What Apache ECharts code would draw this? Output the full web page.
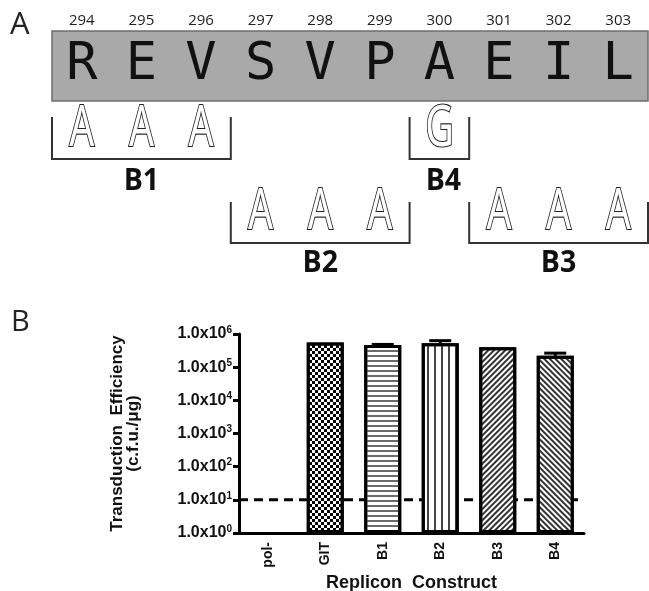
<!DOCTYPE html>
<html>
<head>
<meta charset="utf-8">
<script src="https://cdn.jsdelivr.net/npm/echarts@6/dist/echarts.min.js"></script>
<style>
html,body{margin:0;padding:0;background:#fff;}
#chart{width:649px;height:591px;}
</style>
</head>
<body>
<div id="chart"></div>
<script>
// ---------- Panel A data ----------
const residueNumbers = [294, 295, 296, 297, 298, 299, 300, 301, 302, 303];
const sequence = ['R', 'E', 'V', 'S', 'V', 'P', 'A', 'E', 'I', 'L'];
const mutantNames = ['B1', 'B2', 'B3', 'B4'];
const mutantFirstResidue = [294, 297, 301, 300];
const mutantSubstitutions = [['A', 'A', 'A'], ['A', 'A', 'A'], ['A', 'A', 'A'], ['G']];

// ---------- Panel B data ----------
const categories = ['pol-', 'GIT', 'B1', 'B2', 'B3', 'B4'];
const efficiency = [null, 5.5e5, 4.7e5, 5.3e5, 4.0e5, 2.2e5];
const errorHigh = [null, null, 4.85e5, 6.3e5, null, 2.65e5];
const threshold = 10;
const yMin = 1, yMax = 1e6;

// ---------- layout / style ----------
const FONT = "'Liberation Sans', Arial, sans-serif";
const SANS = "'Open Sans', 'Noto Sans', sans-serif";
const box = { left: 52, right: 648, top: 31, bottom: 101 };
const step = (box.right - box.left) / residueNumbers.length;
const cx = i => box.left + (i + 0.5) * step;
const edge = i => box.left + i * step;
const rowLayout = {
  B1: { letterY: 130, top: 117, bottom: 159, labelY: 181.5, dx: 0 },
  B4: { letterY: 130, top: 117, bottom: 159, labelY: 181.5, dx: 4 },
  B2: { letterY: 213, top: 202, bottom: 243, labelY: 263.5, dx: 0 },
  B3: { letterY: 213, top: 202, bottom: 243, labelY: 263.5, dx: 0 }
};
const decals = [
  null,
  { symbol: 'rect', symbolSize: 1, dashArrayX: [[3, 3], [0, 3, 3, 0]], dashArrayY: [3, 0], color: '#000' },
  { symbol: 'rect', symbolSize: 1, dashArrayX: [1, 0], dashArrayY: [1.6, 2.3], color: '#6a6a6a' },
  { symbol: 'rect', symbolSize: 1, dashArrayX: [1.8, 4.6], dashArrayY: [1, 0], color: '#444' },
  { symbol: 'rect', symbolSize: 1, dashArrayX: [1, 0], dashArrayY: [1.4, 1.9], rotation: -Math.PI / 4, color: '#333' },
  { symbol: 'rect', symbolSize: 1, dashArrayX: [1, 0], dashArrayY: [1.4, 2.0], rotation: Math.PI / 4, color: '#333' }
];

// ---------- Panel A graphics ----------
const graphics = [];
graphics.push({ type: 'text', x: 10, y: 25, style: { text: 'A', fontSize: 31, fontFamily: SANS, fill: '#222', align: 'left', verticalAlign: 'middle' } });
graphics.push({ type: 'text', x: 11, y: 323, style: { text: 'B', fontSize: 29, fontFamily: SANS, fill: '#222', align: 'left', verticalAlign: 'middle' } });
graphics.push({ type: 'rect', shape: { x: box.left, y: box.top, width: box.right - box.left, height: box.bottom - box.top }, style: { fill: '#a9a9a9', stroke: '#6e6e6e', lineWidth: 1.5 } });
residueNumbers.forEach((n, i) => {
  graphics.push({ type: 'text', x: cx(i), y: 20.5, style: { text: String(n), fontSize: 15, fontFamily: SANS, fill: '#222', align: 'center', verticalAlign: 'middle' } });
});
sequence.forEach((s, i) => {
  graphics.push({ type: 'text', x: cx(i), y: 65, style: { text: s, fontSize: 52, fontFamily: "'DejaVu Sans Mono', monospace", fill: '#111', align: 'center', verticalAlign: 'middle' } });
});
mutantNames.forEach((name, g) => {
  const lay = rowLayout[name];
  const start = mutantFirstResidue[g] - residueNumbers[0];
  const subs = mutantSubstitutions[g];
  subs.forEach((aa, k) => {
    graphics.push({ type: 'text', x: cx(start + k), y: lay.letterY, scaleX: 0.7, style: { text: aa, fontSize: 56, fontFamily: "'Noto Sans', sans-serif", fill: '#fff', stroke: '#222', lineWidth: 2.2, align: 'center', verticalAlign: 'middle' } });
  });
  const x1 = edge(start), x2 = edge(start + subs.length);
  graphics.push({ type: 'polyline', shape: { points: [[x1, lay.top], [x1, lay.bottom], [x2, lay.bottom], [x2, lay.top]] }, style: { stroke: '#333', lineWidth: 2, fill: null } });
  graphics.push({ type: 'text', x: (x1 + x2) / 2 + lay.dx, y: lay.labelY, scaleX: 0.92, style: { text: name, fontSize: 31, fontWeight: 'bold', fontFamily: SANS, fill: '#111', align: 'center', verticalAlign: 'middle' } });
});

// ---------- Chart ----------
const chart = echarts.init(document.getElementById('chart'), null, { renderer: 'canvas' });
const errData = [];
errorHigh.forEach((h, i) => { if (h != null) errData.push([i, efficiency[i], h]); });

chart.setOption({
  animation: false,
  backgroundColor: '#fff',
  graphic: graphics,
  grid: { left: 239, right: 65, top: 334, bottom: 58, containLabel: false, outerBoundsMode: 'none' },
  xAxis: [{
    type: 'category',
    data: categories,
    boundaryGap: true,
    axisLine: { lineStyle: { color: '#000', width: 3 } },
    axisTick: { alignWithLabel: true, length: 6, lineStyle: { color: '#000', width: 3 } },
    axisLabel: { rotate: 90, margin: 9, fontSize: 14, fontWeight: 'bold', fontFamily: FONT, color: '#111' },
    name: 'Replicon  Construct',
    nameLocation: 'middle',
    nameGap: 41,
    nameTextStyle: { fontSize: 18, fontWeight: 'bold', fontFamily: FONT, color: '#111' }
  }, {
    type: 'value', min: 0, max: 1, show: false, gridIndex: 0
  }],
  yAxis: {
    type: 'log',
    logBase: 10,
    min: yMin,
    max: yMax,
    interval: 1,
    splitLine: { show: false },
    axisLine: { show: true, lineStyle: { color: '#000', width: 3 } },
    axisTick: { show: true, length: 6, lineStyle: { color: '#000', width: 3 } },
    axisLabel: {
      margin: 7,
      formatter: v => '{b|1.0x10}{s|' + Math.round(Math.log10(v)) + '}',
      rich: {
        b: { fontSize: 16, fontWeight: 'bold', fontFamily: FONT, color: '#111', lineHeight: 18 },
        s: { fontSize: 10, fontWeight: 'bold', fontFamily: FONT, color: '#111', lineHeight: 10, verticalAlign: 'top' }
      }
    },
    name: 'Transduction  Efficiency\n(c.f.u./μg)',
    nameLocation: 'middle',
    nameRotate: 90,
    nameGap: 98,
    nameTextStyle: { fontSize: 17, fontWeight: 'bold', fontFamily: FONT, color: '#111', lineHeight: 16 }
  },
  series: [{
    type: 'line',
    xAxisIndex: 1,
    data: [[0, threshold], [1, threshold]],
    symbol: 'none',
    z: 1,
    silent: true,
    lineStyle: { color: '#000', width: 3, type: [9, 6] }
  }, {
    type: 'bar',
    xAxisIndex: 0,
    barWidth: 37,
    z: 3,
    data: efficiency.map((v, i) => ({
      value: v,
      itemStyle: { color: '#fff', borderColor: '#000', borderWidth: 3, decal: decals[i] }
    }))
  }, {
    type: 'custom',
    xAxisIndex: 0,
    z: 4,
    data: errData,
    renderItem: (params, api) => {
      const lo = api.coord([api.value(0), api.value(1)]);
      const hi = api.coord([api.value(0), api.value(2)]);
      const st = { stroke: '#000', lineWidth: 3 };
      return {
        type: 'group',
        children: [
          { type: 'line', shape: { x1: lo[0], y1: lo[1], x2: hi[0], y2: hi[1] }, style: st },
          { type: 'line', shape: { x1: hi[0] - 11, y1: hi[1], x2: hi[0] + 11, y2: hi[1] }, style: st }
        ]
      };
    }
  }]
});
</script>
</body>
</html>
